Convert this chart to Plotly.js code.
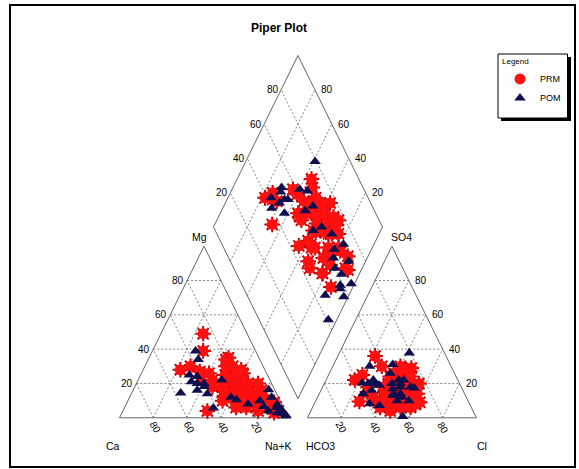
<!DOCTYPE html>
<html><head><meta charset="utf-8">
<script src="https://cdn.plot.ly/plotly-3.0.1.min.js"></script>
<style>html,body{margin:0;padding:0;background:#fff;}#chart{width:579px;height:469px;}</style>
</head><body><div id="chart"></div>
<script>
// ---- data (percent of meq) ----
const tickValues = [20, 40, 60, 80];
const cationLabels = ['Ca', 'Mg', 'Na+K'];
const anionLabels = ['HCO3', 'SO4', 'Cl'];
const seriesNames = ['PRM', 'POM'];

const prmMg  = [28,49,30,27,39,24,26,35,22,10,30,15,12,8,7,9,5,18,20,16,14,12,20,18,10,24,16,12,20,14,8,4,6,4,18,22,25,30,28,20,16,10,13,14,12,22,18,10,9,26,16,34,12,20,6,4,3];
const prmNaK = [22,25,27,34,30,36,40,47,62,56,48,60,64,69,78,87,88,64,50,66,72,76,58,52,70,56,68,60,66,74,82,80,66,50,46,44,50,52,58,72,76,80,78,62,56,54,60,74,64,60,54,46,68,62,72,92,90];
const prmCl  = [17,27,28,26,20,22,29,40,47,33,36,38,42,35,40,46,62,44,40,38,50,48,45,42,52,44,55,46,50,54,56,52,40,39,37,44,40,41,45,56,58,60,47,48,43,50,53,44,38,46,58,42,47,51,49,57,50];
const prmSO4 = [22,18,15,9.5,25,36,30,30,29,12,18,20,10,10,11,6,9,18,18,16,18,12,20,22,14,26,10,16,20,8,12,6,6,15,24,28,24,28,24,20,14,8,4,22,26,12,16,12,26,6,6,12,27,8,24,10,16];

const pomMg  = [39,34,25,21,14.4,18.3,20,14,22,5.7,10.5,6.6,12,16.4,7.6,2.7,1.7,1,4,3,5,6,8,10,12,20,24,16];
const pomNaK = [25.5,29.6,28.8,32,29,41,36,45,49.5,52.7,64,82,60,80,89.5,95,97.4,98,86,92,93,90,72,78,84,40,34,38];
const pomCl  = [22.3,28,21.8,30,26,41.4,33,35,42,45,46,54.5,44,48,50,32.7,56,55,39,48,44,52,46,43,40,36,30,26];
const pomSO4 = [20.3,22,30,16,14,37.8,19,31,17,20,18,17.4,14,14,12,8.2,0.8,10,7.2,10,13,18,22,22,20,26,20,20];

// ---- geometry ----
const G = 11.2;              // gap between the two triangles
const H = Math.sqrt(3) / 2;
const cationXY = (mg, nak) => [nak + mg / 2, H * mg];
const anionXY = (cl, so4) => [100 + G + cl + so4 / 2, H * so4];
const diamondXY = (cm, s) => [100 + G / 2 + 0.5 * (s - cm), H * (G + cm + s)];

function piperPoints(mg, nak, cl, so4) {
  const x = [], y = [];
  for (let i = 0; i < mg.length; i++) {
    const c = cationXY(mg[i], nak[i]);
    const a = anionXY(cl[i], so4[i]);
    const d = diamondXY(100 - nak[i], cl[i] + so4[i]);
    x.push(c[0], a[0], d[0]); y.push(c[1], a[1], d[1]);
  }
  return {x, y};
}

// outlines
const ox = [], oy = [];
function seg(arrX, arrY, p, q) { arrX.push(p[0], q[0], null); arrY.push(p[1], q[1], null); }
function poly(pts) { for (let i = 0; i < pts.length; i++) seg(ox, oy, pts[i], pts[(i + 1) % pts.length]); }
poly([[0,0],[100,0],[50,100*H]]);
poly([[100+G,0],[200+G,0],[150+G,100*H]]);
poly([diamondXY(0,0), diamondXY(100,0), diamondXY(100,100), diamondXY(0,100)]);

// grid
const gx = [], gy = [];
tickValues.forEach(v => {
  seg(gx, gy, cationXY(v, 0), cationXY(v, 100 - v));          // Mg = v
  seg(gx, gy, cationXY(0, v), cationXY(100 - v, v));          // Na+K = v
  seg(gx, gy, cationXY(0, 100 - v), cationXY(100 - v, 0));    // Ca = v
  seg(gx, gy, anionXY(0, v), anionXY(100 - v, v));            // SO4 = v
  seg(gx, gy, anionXY(v, 0), anionXY(v, 100 - v));            // Cl = v
  seg(gx, gy, anionXY(100 - v, 0), anionXY(0, 100 - v));      // HCO3 = v
  seg(gx, gy, diamondXY(v, 0), diamondXY(v, 100));
  seg(gx, gy, diamondXY(0, v), diamondXY(100, v));
});

const tickFont = {family: 'Liberation Sans, Arial, sans-serif', size: 10, color: '#000'};
const labFont = {family: 'Liberation Sans, Arial, sans-serif', size: 10.5, color: '#000'};
const ann = [];
tickValues.forEach(v => {
  let p = cationXY(v, 0);
  ann.push({x: p[0], y: p[1], text: String(v), xanchor: 'right', yanchor: 'middle', xshift: -1, showarrow: false, font: tickFont});
  p = cationXY(0, 100 - v); // Ca = v on base
  ann.push({x: p[0], y: p[1], text: String(v), xanchor: 'center', yanchor: 'middle', textangle: 60, xshift: 2, yshift: -10, showarrow: false, font: tickFont});
  p = anionXY(v, 0);
  ann.push({x: p[0], y: p[1], text: String(v), xanchor: 'center', yanchor: 'middle', textangle: 60, xshift: 0, yshift: -10, showarrow: false, font: tickFont});
  p = anionXY(100 - v, v);
  ann.push({x: p[0], y: p[1], text: String(v), xanchor: 'left', yanchor: 'middle', xshift: 4, showarrow: false, font: tickFont});
  p = diamondXY(100, v);
  ann.push({x: p[0], y: p[1], text: String(v), xanchor: 'right', yanchor: 'middle', xshift: 0, showarrow: false, font: tickFont});
  p = diamondXY(v, 100);
  ann.push({x: p[0], y: p[1], text: String(v), xanchor: 'left', yanchor: 'middle', xshift: 4, showarrow: false, font: tickFont});
});
ann.push({x: 0, y: 0, text: cationLabels[0], xshift: -7, yshift: -28, showarrow: false, font: labFont});
ann.push({x: 100, y: 0, text: cationLabels[2], xshift: -10, yshift: -28, showarrow: false, font: labFont});
ann.push({x: 50, y: 100*H, text: cationLabels[1], xshift: -5, yshift: 9, showarrow: false, font: labFont});
ann.push({x: 100+G, y: 0, text: anionLabels[0], xshift: 13, yshift: -28, showarrow: false, font: labFont});
ann.push({x: 200+G, y: 0, text: anionLabels[2], xshift: 6, yshift: -28, showarrow: false, font: labFont});
ann.push({x: 150+G, y: 100*H, text: anionLabels[1], xshift: 9.5, yshift: 9, showarrow: false, font: labFont});

const prm = piperPoints(prmMg, prmNaK, prmCl, prmSO4);
const pom = piperPoints(pomMg, pomNaK, pomCl, pomSO4);

const traces = [
  {x: gx, y: gy, mode: 'lines', line: {color: '#666', width: 0.8, dash: '2px,2px'}, hoverinfo: 'skip', showlegend: false},
  {x: ox, y: oy, mode: 'lines', line: {color: '#666', width: 1}, hoverinfo: 'skip', showlegend: false},
  {x: prm.x, y: prm.y, mode: 'markers', marker: {symbol: 'asterisk-open', size: 13, color: '#cc0000', line: {color: '#cc0000', width: 2}}, hoverinfo: 'skip', showlegend: false},
  {x: prm.x, y: prm.y, mode: 'markers', name: seriesNames[0], marker: {symbol: 'circle', size: 11, color: '#ff1010', line: {width: 0}}},
  {x: pom.x, y: pom.y, mode: 'markers', name: seriesNames[1], marker: {symbol: 'triangle-up', size: 10, color: '#0f0f4f', line: {width: 0}}}
];

const W = 579, Ht = 469;
const px = v => v / W, py = v => 1 - v / Ht;
const layout = {
  width: W, height: Ht,
  margin: {l: 0, r: 0, t: 0, b: 0, pad: 0},
  paper_bgcolor: '#fff', plot_bgcolor: '#fff',
  xaxis: {range: [-70.71, 271.89], visible: false, fixedrange: true},
  yaxis: {range: [-25.85, 210.9], visible: false, fixedrange: true},
  title: {text: '<b>Piper Plot</b>', x: px(279), y: py(28), xanchor: 'center', yanchor: 'middle', font: {family: 'Liberation Sans, Arial, sans-serif', size: 12, color: '#000'}},
  showlegend: true,
  legend: {x: px(500), y: py(54), xanchor: 'left', yanchor: 'top', bgcolor: 'rgba(0,0,0,0)', borderwidth: 0,
    title: {text: 'Legend', font: {size: 8, family: 'Liberation Sans, Arial, sans-serif'}},
    font: {size: 9, family: 'Liberation Sans, Arial, sans-serif', color: '#000'}, tracegroupgap: 0},
  annotations: ann,
  shapes: [
    {type: 'rect', xref: 'paper', yref: 'paper', x0: px(10), x1: px(575), y0: py(467), y1: py(5), line: {color: '#000', width: 2}},
    {type: 'rect', xref: 'paper', yref: 'paper', x0: px(501), x1: px(571), y0: py(121), y1: py(57), fillcolor: '#000', line: {width: 0}, layer: 'below'},
    {type: 'rect', xref: 'paper', yref: 'paper', x0: px(498), x1: px(567.5), y0: py(118), y1: py(54), fillcolor: '#fff', line: {color: '#000', width: 1}, layer: 'below'}
  ]
};
Plotly.newPlot('chart', traces, layout, {displayModeBar: false, staticPlot: true});
</script></body></html>
